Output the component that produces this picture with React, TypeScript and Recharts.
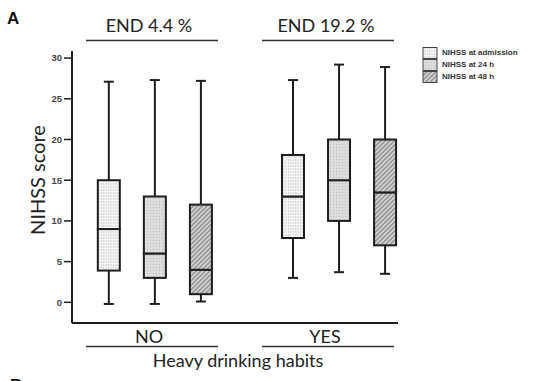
import React from 'react';
import { ComposedChart, Bar, XAxis, YAxis, Legend } from 'recharts';

const groups = ['NO', 'YES'];
const groupTitles = ['END 4.4 %', 'END 19.2 %'];
const seriesNames = ['NIHSS at admission', 'NIHSS at 24 h', 'NIHSS at 48 h'];
const yTicks = [0, 5, 10, 15, 20, 25, 30];
const xAxisTitle = 'Heavy drinking habits';
const yAxisTitle = 'NIHSS score';
const panelLetters = ['A', 'B'];

// Each array: [admission, 24 h, 48 h]
const minNO = [-0.2, -0.2, 0.1];
const q1NO = [3.9, 3.0, 1.0];
const medianNO = [9.0, 6.0, 4.0];
const q3NO = [15.0, 13.0, 12.0];
const maxNO = [27.1, 27.3, 27.2];

const minYES = [3.0, 3.7, 3.5];
const q1YES = [7.9, 10.0, 7.0];
const medianYES = [13.0, 15.0, 13.5];
const q3YES = [18.1, 20.0, 20.0];
const maxYES = [27.3, 29.2, 28.9];

const groupStats = [
  { min: minNO, q1: q1NO, med: medianNO, q3: q3NO, max: maxNO },
  { min: minYES, q1: q1YES, med: medianYES, q3: q3YES, max: maxYES },
];

const tableData = groupStats.flatMap((st, g) =>
  seriesNames.map((name, s) => ({
    pos: g * (seriesNames.length + 1) + s,
    group: groups[g],
    series: s,
    base: st.min[s],
    lowWhisker: st.q1[s] - st.min[s],
    boxLow: st.med[s] - st.q1[s],
    boxHigh: st.q3[s] - st.med[s],
    highWhisker: st.max[s] - st.q3[s],
  }))
);

const patternIds = ['patAdm', 'pat24', 'pat48'];
const INK = '#1e1e1e';
const FONT = 'Lato, "Open Sans", sans-serif';

const Nothing = () => null;

const BoxShape = (props: any) => {
  const { x, y, width, height, payload } = props;
  if (x == null || y == null) return null;
  return (
    <rect
      x={x + 1}
      y={y}
      width={width - 2}
      height={height}
      fill={`url(#${patternIds[payload.series]})`}
      stroke={INK}
      strokeWidth={2}
    />
  );
};

const LowWhiskerShape = (props: any) => {
  const { x, y, width, height } = props;
  if (x == null || y == null) return null;
  const cx = x + width / 2;
  const bottom = y + height;
  return (
    <g stroke={INK} strokeWidth={2}>
      <line x1={cx} y1={y} x2={cx} y2={bottom} />
      <line x1={cx - 5} y1={bottom} x2={cx + 5} y2={bottom} />
    </g>
  );
};

const HighWhiskerShape = (props: any) => {
  const { x, y, width, height } = props;
  if (x == null || y == null) return null;
  const cx = x + width / 2;
  return (
    <g stroke={INK} strokeWidth={2}>
      <line x1={cx} y1={y} x2={cx} y2={y + height} />
      <line x1={cx - 5} y1={y} x2={cx + 5} y2={y} />
    </g>
  );
};

const Patterns = () => (
  <svg width={0} height={0} style={{ position: 'absolute' }}>
    <defs>
      <pattern id="patAdm" patternUnits="userSpaceOnUse" width={2.4} height={3}>
        <rect width={2.4} height={3} fill="#f6f6f6" />
        <line x1={0.6} y1={0} x2={0.6} y2={2} stroke="#c4c4c4" strokeWidth={0.8} />
      </pattern>
      <pattern id="pat24" patternUnits="userSpaceOnUse" width={3} height={3}>
        <rect width={3} height={3} fill="#dadada" />
        <rect x={0} y={0} width={1} height={1} fill="#c2c2c2" />
        <rect x={1.5} y={1.5} width={1} height={1} fill="#ececec" />
      </pattern>
      <pattern id="pat48" patternUnits="userSpaceOnUse" width={3.2} height={3.2} patternTransform="rotate(45)">
        <rect width={3.2} height={3.2} fill="#d2d2d2" />
        <line x1={0.8} y1={0} x2={0.8} y2={3.2} stroke="#8c8c8c" strokeWidth={1.3} />
      </pattern>
    </defs>
  </svg>
);

const LegendContent = () => (
  <div style={{ display: 'flex', flexDirection: 'column', gap: 1 }}>
    {seriesNames.map((name, i) => (
      <div key={name} style={{ display: 'flex', alignItems: 'center', height: 11 }}>
        <svg width={16} height={12} style={{ display: 'block' }}>
          <rect x={1} y={0.5} width={14} height={11} fill={`url(#${patternIds[i]})`} stroke="#444" strokeWidth={1} />
        </svg>
        <span
          style={{
            marginLeft: 4,
            fontFamily: '"Liberation Sans", Arial, sans-serif',
            fontWeight: 'bold',
            fontSize: 8,
            color: '#333',
            whiteSpace: 'nowrap',
          }}
        >
          {name}
        </span>
      </div>
    ))}
  </div>
);

const Annotations = () => (
  <svg
    width={543}
    height={381}
    style={{ position: 'absolute', left: 0, top: 0, pointerEvents: 'none' }}
  >
    <text x={7} y={24} fontFamily='"Liberation Sans", Arial, sans-serif' fontWeight="bold" fontSize={17} fill="#111">
      {panelLetters[0]}
    </text>
    <text x={10} y={391} fontFamily='"Liberation Sans", Arial, sans-serif' fontWeight="bold" fontSize={17} fill="#111">
      {panelLetters[1]}
    </text>
    <text x={149} y={32} textAnchor="middle" fontFamily={FONT} fontSize={18} fill="#222">
      {groupTitles[0]}
    </text>
    <text x={326} y={32} textAnchor="middle" fontFamily={FONT} fontSize={18} fill="#222">
      {groupTitles[1]}
    </text>
    <line x1={86} y1={40.5} x2={218} y2={40.5} stroke="#333" strokeWidth={1.5} />
    <line x1={262} y1={40.5} x2={394} y2={40.5} stroke="#333" strokeWidth={1.5} />
    <text x={149} y={343} textAnchor="middle" fontFamily={FONT} fontSize={18} fill="#222">
      {groups[0]}
    </text>
    <text x={325} y={343} textAnchor="middle" fontFamily={FONT} fontSize={18} fill="#222">
      {groups[1]}
    </text>
    <line x1={86} y1={346.5} x2={218} y2={346.5} stroke="#333" strokeWidth={1.5} />
    <line x1={262} y1={346.5} x2={394} y2={346.5} stroke="#333" strokeWidth={1.5} />
    <text x={238} y={367} textAnchor="middle" fontFamily={FONT} fontSize={18} fill="#222">
      {xAxisTitle}
    </text>
    <text
      x={0}
      y={0}
      transform="translate(45 180) rotate(-90)"
      textAnchor="middle"
      fontFamily={FONT}
      fontSize={20}
      fill="#222"
    >
      {yAxisTitle}
    </text>
  </svg>
);

export default function App() {
  return (
    <div style={{ position: 'absolute', left: 0, top: 0, width: 543, height: 381, background: '#fff' }}>
      <Patterns />
      <ComposedChart
        width={543}
        height={381}
        data={tableData}
        margin={{ top: 51, right: 145, bottom: 48, left: 32 }}
      >
        <XAxis
          type="number"
          dataKey="pos"
          domain={[-0.8, 6.28]}
          allowDataOverflow
          tick={false}
          tickLine={false}
          height={10}
          axisLine={{ stroke: INK, strokeWidth: 2 }}
        />
        <YAxis
          type="number"
          width={40}
          domain={[-2.54, 30.87]}
          allowDataOverflow
          ticks={yTicks}
          interval={0}
          tickSize={8}
          tickMargin={2}
          axisLine={{ stroke: INK, strokeWidth: 2 }}
          tickLine={{ stroke: INK, strokeWidth: 1.5 }}
          tick={{ fontSize: 9.5, fontWeight: 'bold', fill: '#444', fontFamily: '"Liberation Sans", Arial, sans-serif' }}
        />
        <Legend
          layout="horizontal"
          verticalAlign="middle"
          align="center"
          content={LegendContent}
          wrapperStyle={{ left: 422, top: 47, width: 121, height: 38 }}
        />
        <Bar dataKey="base" stackId="box" barSize={24} shape={Nothing} isAnimationActive={false} />
        <Bar dataKey="lowWhisker" stackId="box" barSize={24} shape={LowWhiskerShape} isAnimationActive={false} />
        <Bar dataKey="boxLow" stackId="box" barSize={24} shape={BoxShape} isAnimationActive={false} />
        <Bar dataKey="boxHigh" stackId="box" barSize={24} shape={BoxShape} isAnimationActive={false} />
        <Bar dataKey="highWhisker" stackId="box" barSize={24} shape={HighWhiskerShape} isAnimationActive={false} />
      </ComposedChart>
      <Annotations />
    </div>
  );
}
